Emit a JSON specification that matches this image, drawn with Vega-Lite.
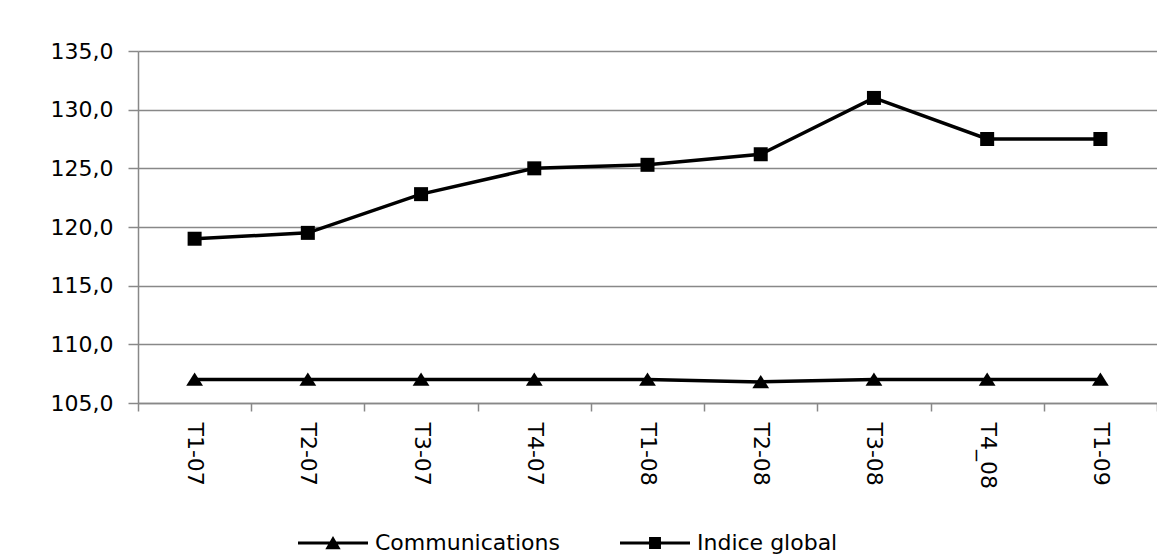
{
  "$schema": "https://vega.github.io/schema/vega-lite/v6.json",
  "autosize": {"type": "none"},
  "padding": {"left": 138, "top": 51, "right": 0, "bottom": 157},
  "width": 1019,
  "height": 352,
  "background": "white",
  "config": {
    "font": "DejaVu Sans",
    "view": {"stroke": null},
    "axis": {"labelFont": "DejaVu Sans", "labelFontSize": 22, "labelColor": "#000000", "domainColor": "#888888", "tickColor": "#888888", "gridColor": "#888888", "domainWidth": 1.5, "tickWidth": 1.5, "gridWidth": 1.5}
  },
  "data": {
    "values": [
      {"period": "T1-07", "series": "Indice global", "value": 119.0},
      {"period": "T2-07", "series": "Indice global", "value": 119.5},
      {"period": "T3-07", "series": "Indice global", "value": 122.8},
      {"period": "T4-07", "series": "Indice global", "value": 125.0},
      {"period": "T1-08", "series": "Indice global", "value": 125.3},
      {"period": "T2-08", "series": "Indice global", "value": 126.2},
      {"period": "T3-08", "series": "Indice global", "value": 131.0},
      {"period": "T4_08", "series": "Indice global", "value": 127.5},
      {"period": "T1-09", "series": "Indice global", "value": 127.5},
      {"period": "T1-07", "series": "Communications", "value": 107.0},
      {"period": "T2-07", "series": "Communications", "value": 107.0},
      {"period": "T3-07", "series": "Communications", "value": 107.0},
      {"period": "T4-07", "series": "Communications", "value": 107.0},
      {"period": "T1-08", "series": "Communications", "value": 107.0},
      {"period": "T2-08", "series": "Communications", "value": 106.8},
      {"period": "T3-08", "series": "Communications", "value": 107.0},
      {"period": "T4_08", "series": "Communications", "value": 107.0},
      {"period": "T1-09", "series": "Communications", "value": 107.0}
    ]
  },
  "encoding": {
    "x": {
      "field": "period", "type": "ordinal", "sort": null,
      "scale": {"type": "band", "paddingInner": 0, "paddingOuter": 0},
      "axis": {"title": null, "labelAngle": 90, "tickBand": "extent", "tickSize": 8, "labelPadding": 11, "grid": false}
    },
    "y": {
      "field": "value", "type": "quantitative",
      "scale": {"domain": [105, 135], "zero": false, "nice": false},
      "axis": {"title": null, "values": [105, 110, 115, 120, 125, 130, 135], "tickSize": 10, "labelPadding": 15, "grid": true,
        "labelExpr": "replace(format(datum.value, '.1f'), '.', ',')"}
    }
  },
  "layer": [
    {
      "mark": {"type": "line", "color": "#000000", "strokeWidth": 3.5},
      "encoding": {"detail": {"field": "series"}}
    },
    {
      "mark": {"type": "point", "filled": true, "color": "#000000", "opacity": 1, "size": 196},
      "encoding": {
        "shape": {"field": "series", "type": "nominal",
          "scale": {"domain": ["Communications", "Indice global"], "range": ["M-1.2,0.9L0,-1L1.2,0.9Z", "M-1,-1H1V1H-1Z"]},
          "legend": null}
      }
    },
    {
      "mark": {"type": "point", "filled": true, "color": "#000000", "opacity": 0},
      "encoding": {
        "shape": {"field": "series", "type": "nominal",
          "scale": {"domain": ["Communications", "Indice global"], "range": ["M-1,-0.045H1V0.045H-1ZM-0.22,0.18L0,-0.2L0.22,0.18Z", "M-1,-0.045H1V0.045H-1ZM-0.17,-0.17H0.17V0.17H-0.17Z"]},
          "legend": {
            "title": null, "orient": "none", "direction": "horizontal",
            "legendX": 160, "legendY": 457,
            "symbolSize": 4900, "symbolStrokeWidth": 0, "symbolFillColor": "#000000", "symbolOpacity": 1,
            "labelFont": "DejaVu Sans", "labelFontSize": 22, "labelColor": "#000000", "labelOffset": 7, "labelLimit": 400,
            "columnPadding": 60, "symbolLimit": 0,
            "encode": {
              "symbols": {
                "update": {
                  "fill": {"value": "#000000"},
                  "fillOpacity": {"value": 1},
                  "opacity": {"value": 1}
                }
              }
            }
          }
        }
      }
    }
  ],
  "resolve": {"scale": {"shape": "independent"}}
}
